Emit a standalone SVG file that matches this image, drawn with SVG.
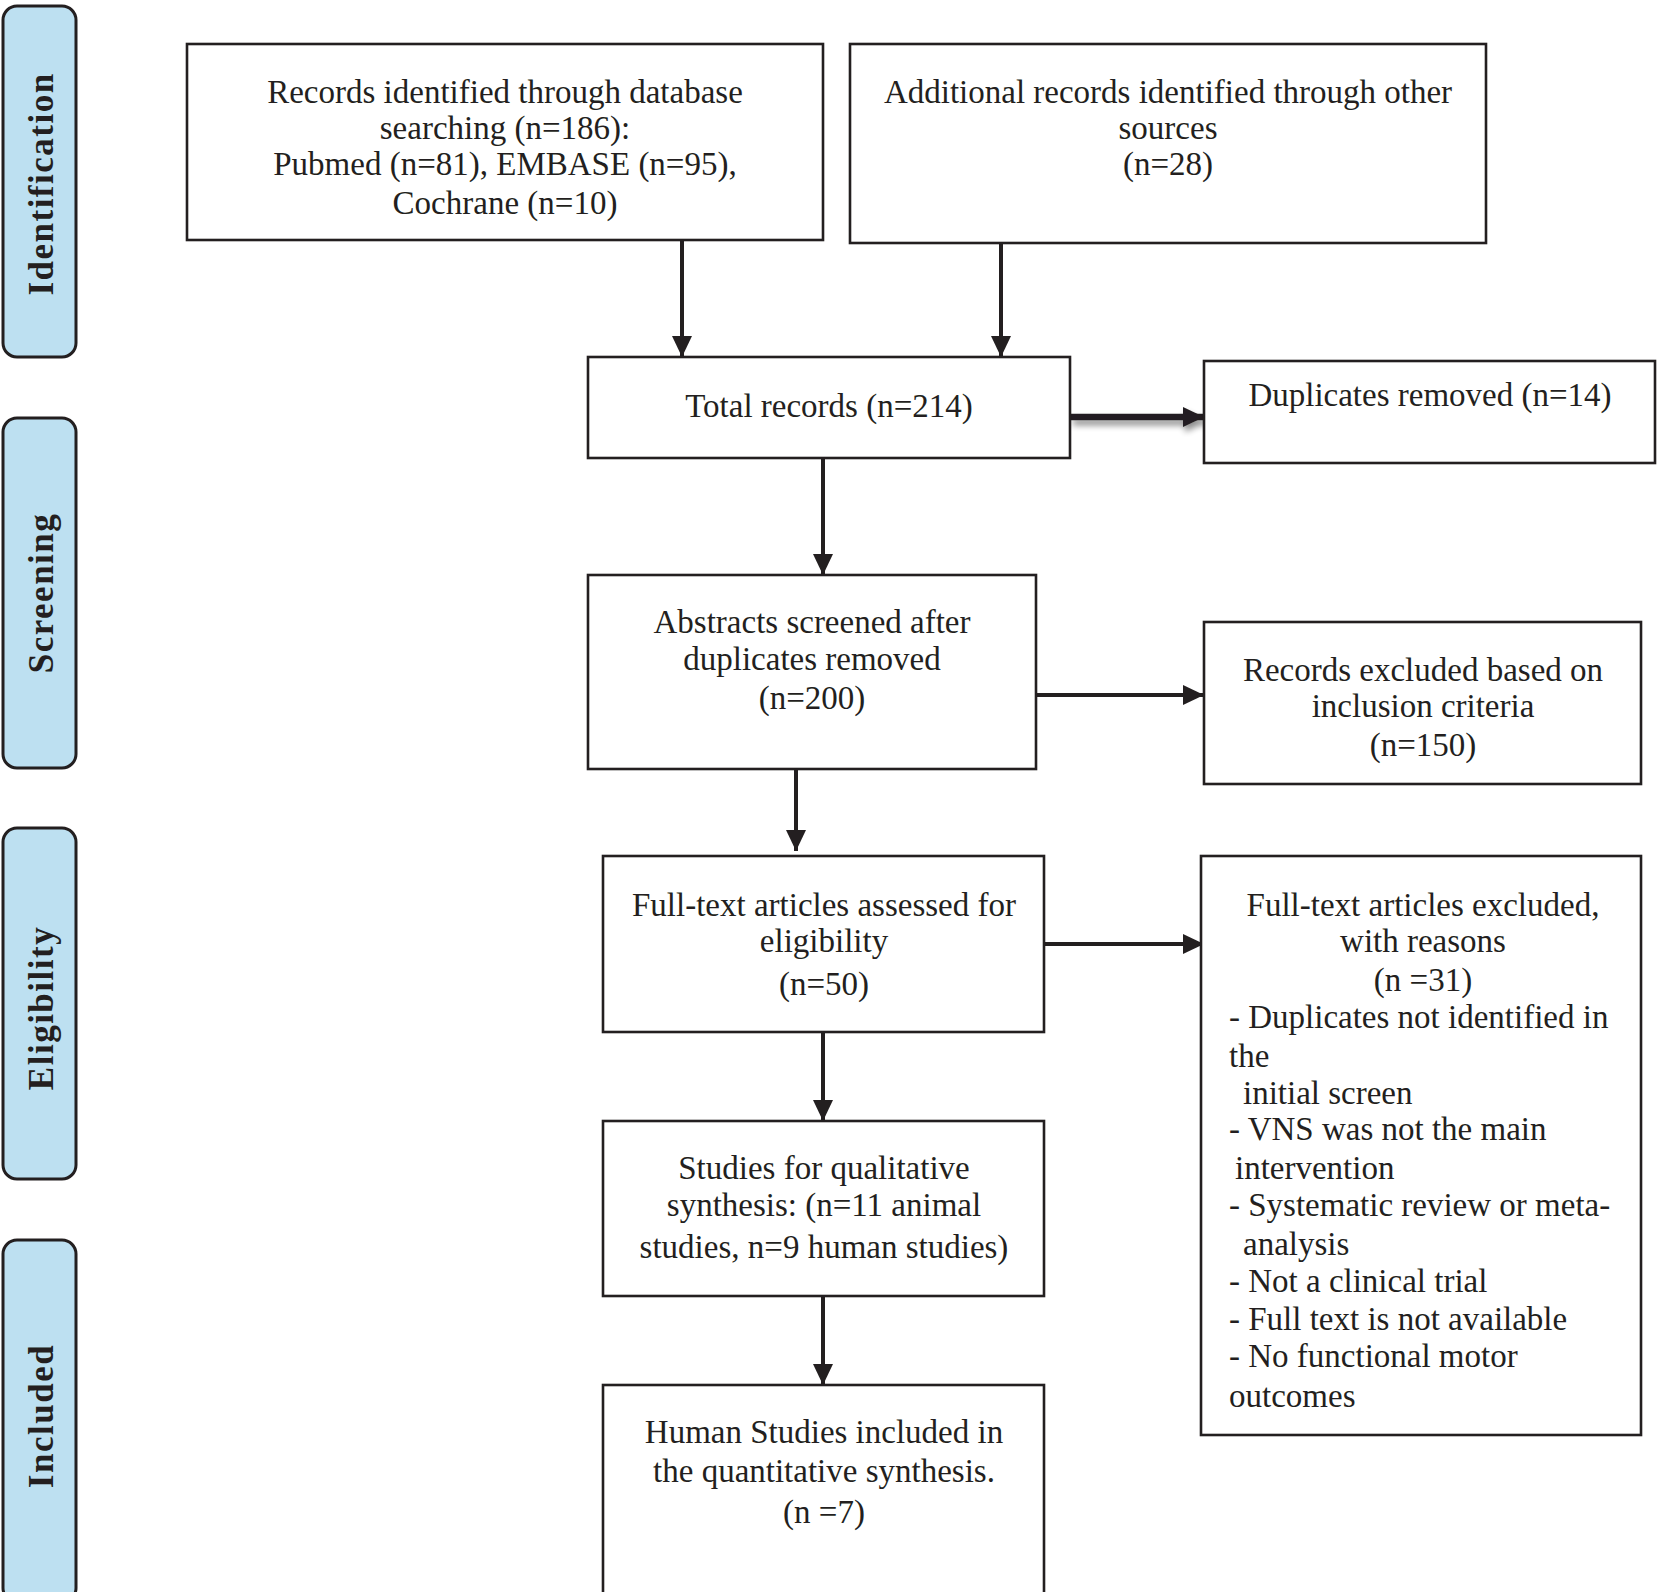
<svg xmlns="http://www.w3.org/2000/svg" width="1658" height="1592" viewBox="0 0 1658 1592">
<defs>
<style>
.box{fill:#fff;stroke:#231f20;stroke-width:2.6}
.lab{fill:#bde0f1;stroke:#231f20;stroke-width:3}
.t{font-family:"Liberation Serif","Times New Roman",serif;font-size:33px;fill:#231f20;text-anchor:middle}
.tl{font-family:"Liberation Serif","Times New Roman",serif;font-size:33px;fill:#231f20;text-anchor:start}
.lt{font-family:"Liberation Serif","Times New Roman",serif;font-size:35px;font-weight:bold;fill:#231f20;text-anchor:middle;letter-spacing:1.5px}
.c{stroke:#231f20;stroke-width:4;fill:none}
</style>
<marker id="ah" markerUnits="userSpaceOnUse" markerWidth="21" markerHeight="20" refX="21" refY="10" orient="auto">
<path d="M0,0 L21,10 L0,20 z" fill="#231f20"/>
</marker>
<filter id="sh" filterUnits="userSpaceOnUse" x="1055" y="395" width="175" height="50">
<feGaussianBlur in="SourceAlpha" stdDeviation="3"/>
<feOffset dx="2" dy="5"/>
<feComponentTransfer><feFuncA type="linear" slope="0.45"/></feComponentTransfer>
<feMerge><feMergeNode/><feMergeNode in="SourceGraphic"/></feMerge>
</filter>
</defs>
<rect width="1658" height="1592" fill="#fff"/>

<g id="stage-identification">
<rect class="lab" x="3" y="6" width="73" height="351" rx="14"/>
<text class="lt" transform="translate(53,184) rotate(-90)">Identification</text>
</g>
<g id="stage-screening">
<rect class="lab" x="3" y="418" width="73" height="350" rx="14"/>
<text class="lt" transform="translate(53,593) rotate(-90)">Screening</text>
</g>
<g id="stage-eligibility">
<rect class="lab" x="3" y="828" width="73" height="351" rx="14"/>
<text class="lt" transform="translate(53,1008) rotate(-90)">Eligibility</text>
</g>
<g id="stage-included">
<rect class="lab" x="3" y="1240" width="73" height="362" rx="14"/>
<text class="lt" transform="translate(53,1416) rotate(-90)">Included</text>
</g>

<g id="connectors">
<line class="c" x1="682" y1="240" x2="682" y2="357" marker-end="url(#ah)"/>
<line class="c" x1="1001" y1="243" x2="1001" y2="357" marker-end="url(#ah)"/>
<g filter="url(#sh)">
<line stroke="#231f20" stroke-width="6.5" x1="1071" y1="417" x2="1204" y2="417" marker-end="url(#ah)"/>
</g>
<line class="c" x1="823" y1="458" x2="823" y2="575" marker-end="url(#ah)"/>
<line class="c" x1="1036" y1="695" x2="1204" y2="695" marker-end="url(#ah)"/>
<line class="c" x1="796" y1="769" x2="796" y2="851" marker-end="url(#ah)"/>
<line class="c" x1="1044" y1="944" x2="1204" y2="944" marker-end="url(#ah)"/>
<line class="c" x1="823" y1="1032" x2="823" y2="1121" marker-end="url(#ah)"/>
<line class="c" x1="823" y1="1296" x2="823" y2="1385" marker-end="url(#ah)"/>
</g>

<g id="records-database">
<rect class="box" x="187" y="44" width="636" height="196"/>
<text class="t" x="505" y="103">Records identified through database</text>
<text class="t" x="505" y="139">searching (n=186):</text>
<text class="t" x="505" y="175">Pubmed (n=81), EMBASE (n=95),</text>
<text class="t" x="505" y="214">Cochrane (n=10)</text>
</g>
<g id="records-other">
<rect class="box" x="850" y="44" width="636" height="199"/>
<text class="t" x="1168" y="103">Additional records identified through other</text>
<text class="t" x="1168" y="139">sources</text>
<text class="t" x="1168" y="175">(n=28)</text>
</g>
<g id="total-records">
<rect class="box" x="588" y="357" width="482" height="101"/>
<text class="t" x="829" y="417">Total records (n=214)</text>
</g>
<g id="duplicates-removed">
<rect class="box" x="1204" y="361" width="451" height="102"/>
<text class="t" x="1430" y="406">Duplicates removed (n=14)</text>
</g>
<g id="abstracts-screened">
<rect class="box" x="588" y="575" width="448" height="194"/>
<text class="t" x="812" y="633">Abstracts screened after</text>
<text class="t" x="812" y="670">duplicates removed</text>
<text class="t" x="812" y="709">(n=200)</text>
</g>
<g id="records-excluded">
<rect class="box" x="1204" y="622" width="437" height="162"/>
<text class="t" x="1423" y="681">Records excluded based on</text>
<text class="t" x="1423" y="717">inclusion criteria</text>
<text class="t" x="1423" y="756">(n=150)</text>
</g>
<g id="fulltext-assessed">
<rect class="box" x="603" y="856" width="441" height="176"/>
<text class="t" x="824" y="916">Full-text articles assessed for</text>
<text class="t" x="824" y="952">eligibility</text>
<text class="t" x="824" y="995">(n=50)</text>
</g>
<g id="fulltext-excluded">
<rect class="box" x="1201" y="856" width="440" height="579"/>
<text class="t" x="1423" y="916">Full-text articles excluded,</text>
<text class="t" x="1423" y="952">with reasons</text>
<text class="t" x="1423" y="991">(n =31)</text>
<text class="tl" x="1229" y="1028">- Duplicates not identified in</text>
<text class="tl" x="1229" y="1067">the</text>
<text class="tl" x="1243" y="1104">initial screen</text>
<text class="tl" x="1229" y="1140">- VNS was not the main</text>
<text class="tl" x="1235" y="1179">intervention</text>
<text class="tl" x="1229" y="1216">- Systematic review or meta-</text>
<text class="tl" x="1243" y="1255">analysis</text>
<text class="tl" x="1229" y="1292">- Not a clinical trial</text>
<text class="tl" x="1229" y="1330">- Full text is not available</text>
<text class="tl" x="1229" y="1367">- No functional motor</text>
<text class="tl" x="1229" y="1407">outcomes</text>
</g>
<g id="qualitative-synthesis">
<rect class="box" x="603" y="1121" width="441" height="175"/>
<text class="t" x="824" y="1179">Studies for qualitative</text>
<text class="t" x="824" y="1216">synthesis: (n=11 animal</text>
<text class="t" x="824" y="1258">studies, n=9 human studies)</text>
</g>
<g id="quantitative-synthesis">
<rect class="box" x="603" y="1385" width="441" height="215"/>
<text class="t" x="824" y="1443">Human Studies included in</text>
<text class="t" x="824" y="1482">the quantitative synthesis.</text>
<text class="t" x="824" y="1523">(n =7)</text>
</g>
</svg>
